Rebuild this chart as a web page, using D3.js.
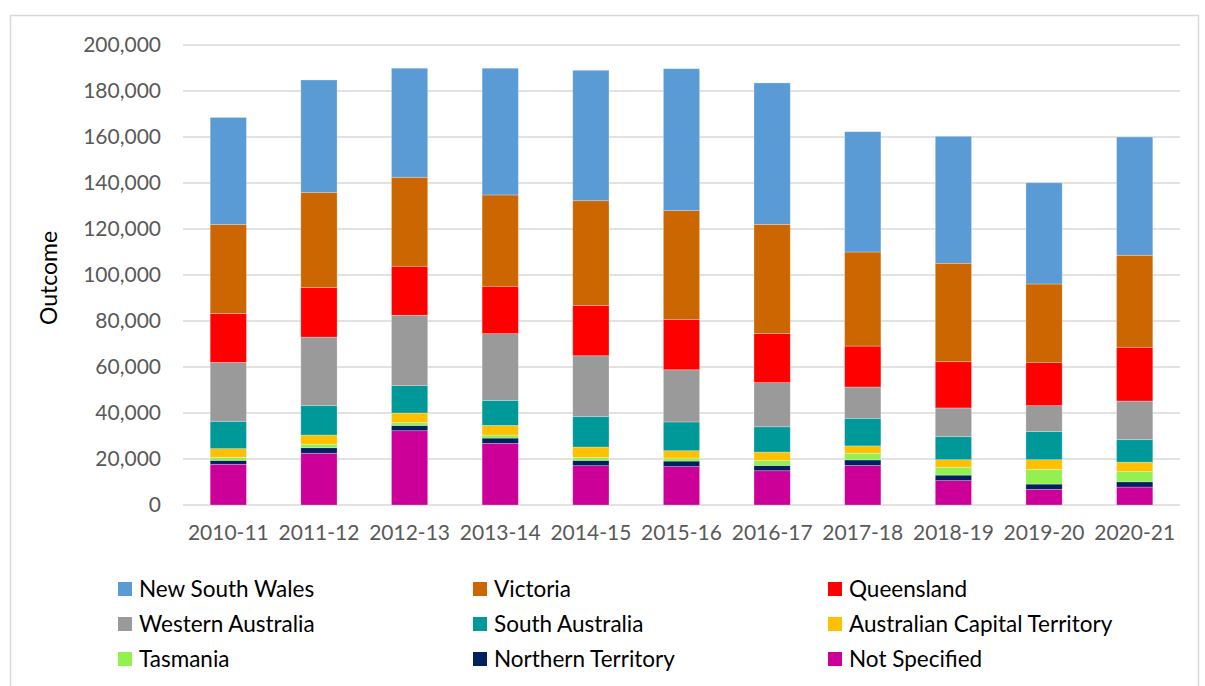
<!DOCTYPE html>
<html>
<head>
<meta charset="utf-8">
<script src="https://cdn.jsdelivr.net/npm/d3@7.9.0/dist/d3.min.js"></script>
<style>
  body { margin: 0; background: #fff; }
  svg { display: block; font-family: Lato, "Open Sans", sans-serif; }
</style>
</head>
<body>
<svg id="chart" width="1205" height="686"></svg>
<script>
// financial years
const years = ["2010-11", "2011-12", "2012-13", "2013-14", "2014-15", "2015-16",
  "2016-17", "2017-18", "2018-19", "2019-20", "2020-21"];

// series, stacked bottom-up (values in thousands)
const notSpecified = [17.7, 22.5, 32.3, 26.8, 17.1, 16.7, 14.9, 17.2, 10.6, 6.8, 7.8];
const northernTerritory = [1.7, 2.4, 2.3, 2.3, 2.3, 2.4, 2.3, 2.4, 2.4, 2.3, 2.3];
const tasmania = [1.3, 1.5, 1.2, 1.3, 1.3, 1.3, 2.1, 2.9, 3.4, 6.4, 4.4];
const act = [3.8, 4.0, 4.2, 4.2, 4.5, 3.2, 3.7, 3.2, 3.3, 4.2, 4.1];
const southAustralia = [11.9, 12.9, 11.9, 10.9, 13.2, 12.5, 11.0, 12.0, 10.0, 12.2, 9.8];
const westernAustralia = [25.6, 29.7, 30.6, 29.0, 26.5, 22.7, 19.2, 13.6, 12.5, 11.3, 16.8];
const queensland = [21.3, 21.5, 21.3, 20.6, 21.9, 21.9, 21.4, 17.8, 20.1, 18.7, 23.4];
const victoria = [38.6, 41.3, 38.7, 39.7, 45.5, 47.3, 47.4, 40.9, 42.8, 34.2, 40.0];
const newSouthWales = [46.6, 49.0, 47.4, 55.1, 56.7, 61.7, 61.5, 52.3, 55.2, 44.0, 51.4];

const yTicks = [0, 20000, 40000, 60000, 80000, 100000, 120000, 140000, 160000, 180000, 200000];

const series = [
  { key: "Not Specified", values: notSpecified, color: "#CC0099" },
  { key: "Northern Territory", values: northernTerritory, color: "#002060" },
  { key: "Tasmania", values: tasmania, color: "#92F150" },
  { key: "Australian Capital Territory", values: act, color: "#FFC000" },
  { key: "South Australia", values: southAustralia, color: "#009999" },
  { key: "Western Australia", values: westernAustralia, color: "#9A9A9A" },
  { key: "Queensland", values: queensland, color: "#FF0000" },
  { key: "Victoria", values: victoria, color: "#CC6600" },
  { key: "New South Wales", values: newSouthWales, color: "#5B9BD5" }
];

// legend order (row by row)
const legendOrder = ["New South Wales", "Victoria", "Queensland",
  "Western Australia", "South Australia", "Australian Capital Territory",
  "Tasmania", "Northern Territory", "Not Specified"];

const svg = d3.select("#chart");

// chart border
svg.append("rect")
  .attr("x", 10.5).attr("y", 15.5)
  .attr("width", 1188).attr("height", 690)
  .attr("fill", "none").attr("stroke", "#D9D9D9").attr("stroke-width", 1.5);

const margin = { left: 183, right: 1180, top: 45, bottom: 505 };

const x = d3.scaleBand()
  .domain(years)
  .range([margin.left, margin.right])
  .paddingInner(0.6)
  .paddingOuter(0.3);

const y = d3.scaleLinear()
  .domain([0, 200000])
  .range([margin.bottom, margin.top]);

// gridlines
svg.append("g")
  .selectAll("line")
  .data(yTicks)
  .join("line")
  .attr("x1", margin.left).attr("x2", margin.right)
  .attr("y1", d => y(d)).attr("y2", d => y(d))
  .attr("stroke", "#D9D9D9").attr("stroke-width", 1.5);

// y axis labels
const yAxis = svg.append("g")
  .attr("transform", `translate(${margin.left - 8},0)`)
  .call(d3.axisLeft(y).tickValues(yTicks).tickSize(0).tickPadding(14).tickFormat(d3.format(",")));
yAxis.select(".domain").remove();
yAxis.selectAll("text")
  .attr("fill", "#595959")
  .attr("font-size", 21)
  .attr("font-family", "Lato, sans-serif");

// x axis labels
const xAxis = svg.append("g")
  .attr("transform", `translate(0,${margin.bottom})`)
  .call(d3.axisBottom(x).tickSize(0).tickPadding(20));
xAxis.select(".domain").remove();
xAxis.selectAll("text")
  .attr("fill", "#595959")
  .attr("font-size", 21)
  .attr("font-family", "Lato, sans-serif");

// y axis title
svg.append("text")
  .attr("transform", "translate(57,278) rotate(-90)")
  .attr("text-anchor", "middle")
  .attr("font-size", 23)
  .attr("fill", "#000")
  .text("Outcome");

// stacked bars
const table = years.map((yr, i) => {
  const row = { year: yr };
  series.forEach(s => { row[s.key] = s.values[i] * 1000; });
  return row;
});

const stacked = d3.stack().keys(series.map(s => s.key))(table);
const colorOf = new Map(series.map(s => [s.key, s.color]));

svg.append("g")
  .selectAll("g")
  .data(stacked)
  .join("g")
  .attr("fill", d => colorOf.get(d.key))
  .selectAll("rect")
  .data(d => d)
  .join("rect")
  .attr("x", d => x(d.data.year))
  .attr("width", x.bandwidth())
  .attr("y", d => y(d[1]))
  .attr("height", d => y(d[0]) - y(d[1]))
  .attr("stroke", "rgba(255,255,255,0.35)")
  .attr("stroke-width", 0.75);

// legend
const legend = svg.append("g");
const items = legend.selectAll("g")
  .data(legendOrder)
  .join("g")
  .attr("transform", (d, i) => `translate(${118 + (i % 3) * 355},${589 + Math.floor(i / 3) * 35})`);

items.append("rect")
  .attr("x", 0).attr("y", -7)
  .attr("width", 14).attr("height", 14)
  .attr("fill", d => colorOf.get(d));

items.append("text")
  .attr("x", 21).attr("y", 0)
  .attr("dy", "0.35em")
  .attr("font-size", 22.5)
  .attr("fill", "#000")
  .text(d => d);
</script>
</body>
</html>
